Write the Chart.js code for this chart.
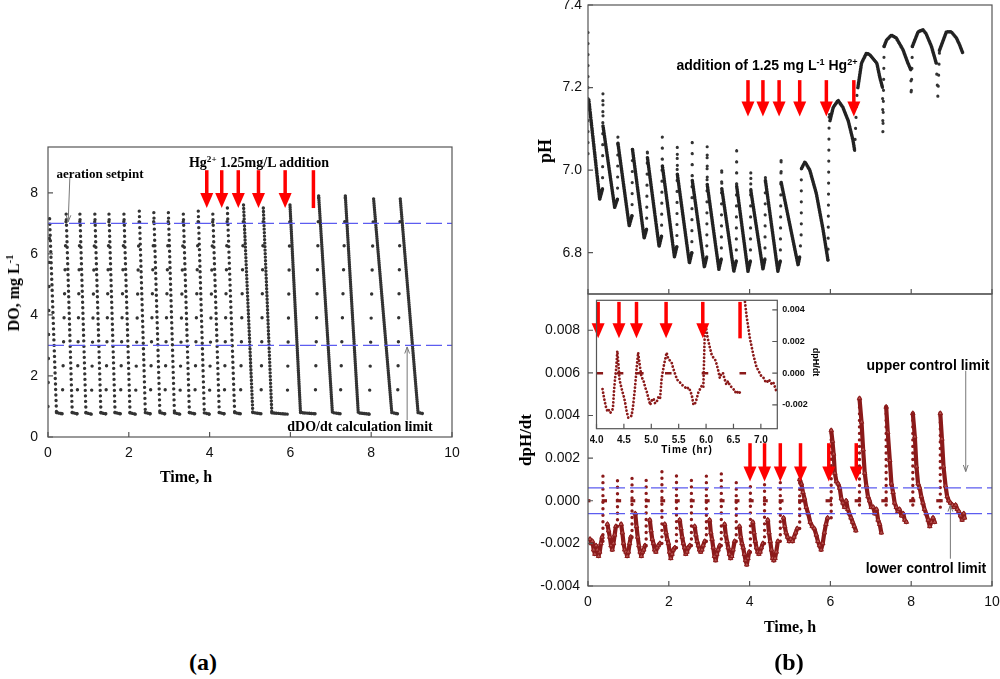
<!DOCTYPE html>
<html>
<head>
<meta charset="utf-8">
<title>DO, pH and dpH/dt during Hg2+ additions</title>
<script src="https://cdn.jsdelivr.net/npm/chart.js@4.4.1/dist/chart.umd.min.js"></script>
<style>
  body { margin: 0; background: #fff; }
  #page { position: relative; width: 1000px; height: 679px; overflow: hidden; background: #fff; }
  #page canvas { position: absolute; }
  .lbl { position: absolute; white-space: nowrap; font-weight: bold; color: #000; line-height: 1; transform: translate(-50%, -50%); }
  .serif { font-family: "Liberation Serif", "DejaVu Serif", serif; }
  .sans { font-family: "Liberation Sans", Arial, sans-serif; }
  .lbl sup { font-size: 65%; vertical-align: 0; position: relative; top: -0.6em; }
  .rot { transform: translate(-50%, -50%) rotate(-90deg); }
  .rot90 { transform: translate(-50%, -50%) rotate(90deg); }
</style>
</head>
<body>
<div id="page">
  <canvas id="chartDO" width="480" height="470" style="left:0;top:0"></canvas>
  <canvas id="chartPH" width="500" height="300" style="left:500px;top:0"></canvas>
  <canvas id="chartDP" width="500" height="340" style="left:500px;top:280px"></canvas>
  <canvas id="chartIn" width="240" height="170" style="left:590px;top:294px"></canvas>

  <div class="lbl serif" style="left:100px;top:173px;font-size:13px">aeration setpint</div>
  <div class="lbl serif" style="left:259px;top:163px;font-size:14px">Hg<sup>2+</sup> 1.25mg/L addition</div>
  <div class="lbl serif" style="left:360px;top:427px;font-size:14px">dDO/dt calculation limit</div>
  <div class="lbl serif rot" style="left:14px;top:293px;font-size:16px">DO, mg L<sup>-1</sup></div>
  <div class="lbl serif" style="left:186px;top:477px;font-size:16px">Time, h</div>
  <div class="lbl serif" style="left:203px;top:662px;font-size:24px">(a)</div>

  <div class="lbl serif rot" style="left:545px;top:151px;font-size:18px">pH</div>
  <div class="lbl sans" style="left:767px;top:65px;font-size:14px">addition of 1.25 mg L<sup>-1</sup> Hg<sup>2+</sup></div>
  <div class="lbl serif rot" style="left:525px;top:440px;font-size:17px">dpH/dt</div>
  <div class="lbl sans" style="left:687px;top:450px;font-size:10px;letter-spacing:1px">Time (hr)</div>
  <div class="lbl sans rot90" style="left:815px;top:362px;font-size:9px">dpH/dt</div>
  <div class="lbl sans" style="left:928px;top:365px;font-size:14px">upper control limit</div>
  <div class="lbl sans" style="left:926px;top:568px;font-size:14px">lower control limit</div>
  <div class="lbl serif" style="left:790px;top:627px;font-size:16px">Time, h</div>
  <div class="lbl serif" style="left:789px;top:662px;font-size:24px">(b)</div>
</div>
<script>
// ---- (a) DO cycles: peak, end of decline, end of low hold ----
const doStart = [0.0, 1.0];
const doPeakT = [0.04, 0.45, 0.79, 1.16, 1.51, 1.88, 2.26, 2.62, 2.98, 3.35, 3.72, 4.08, 4.44, 4.84, 5.33, 5.99, 6.70, 7.36, 8.06, 8.72];
const doPeakV = [7.15, 7.3, 7.3, 7.3, 7.3, 7.3, 7.4, 7.35, 7.35, 7.3, 7.4, 7.3, 7.5, 7.6, 7.5, 7.6, 7.9, 7.9, 7.8, 7.8];
const doLowT  = [0.21, 0.60, 0.94, 1.31, 1.66, 2.03, 2.41, 2.77, 3.13, 3.50, 3.87, 4.24, 4.62, 5.07, 5.54, 6.25, 7.04, 7.68, 8.51, 9.16];
const doLowV  = [0.80, 0.80, 0.79, 0.79, 0.80, 0.79, 0.80, 0.80, 0.79, 0.80, 0.79, 0.80, 0.80, 0.80, 0.79, 0.80, 0.80, 0.79, 0.80, 0.80];
const doEndT  = [0.35, 0.72, 1.07, 1.43, 1.79, 2.16, 2.53, 2.89, 3.26, 3.63, 3.99, 4.36, 4.76, 5.27, 5.92, 6.61, 7.23, 7.95, 8.65, 9.30];
const doEndV  = [0.76, 0.76, 0.75, 0.76, 0.76, 0.75, 0.76, 0.76, 0.75, 0.76, 0.75, 0.76, 0.76, 0.76, 0.75, 0.76, 0.76, 0.75, 0.76, 0.76];
const doLimits = [7.0, 3.0];
const doXTicks = [0, 2, 4, 6, 8, 10];
const doYTicks = [0, 2, 4, 6, 8];
const doArrowT = [3.93, 4.30, 4.71, 5.21, 5.87, 6.57];
const doArrowHead = [true, true, true, true, true, false];

// ---- (b) pH: dense traces and sparse jumps ----
const phDense = [
  [[0.02, 7.17], [0.29, 6.93], [0.36, 6.955]],
  [[0.372, 7.107], [0.66, 6.91], [0.73, 6.93]],
  [[0.742, 7.065], [1.02, 6.865], [1.09, 6.89]],
  [[1.102, 7.05], [1.39, 6.835], [1.45, 6.857]],
  [[1.472, 7.03], [1.76, 6.815], [1.82, 6.84]],
  [[1.842, 7.01], [2.14, 6.79], [2.20, 6.815]],
  [[2.212, 6.99], [2.51, 6.775], [2.57, 6.80]],
  [[2.582, 6.975], [2.88, 6.765], [2.94, 6.79]],
  [[2.952, 6.965], [3.24, 6.76], [3.30, 6.785]],
  [[3.312, 6.955], [3.61, 6.755], [3.67, 6.78]],
  [[3.682, 6.96], [3.96, 6.755], [4.02, 6.78]],
  [[4.032, 6.95], [4.33, 6.76], [4.38, 6.785]],
  [[4.392, 6.975], [4.70, 6.755], [4.76, 6.78]],
  [[4.782, 6.97], [5.20, 6.77], [5.24, 6.79]],
  [[5.29, 7.005], [5.37, 7.02], [5.49, 7.0], [5.65, 6.944], [5.82, 6.855], [5.94, 6.782]],
  [[5.99, 7.12], [6.07, 7.152], [6.19, 7.169], [6.31, 7.152], [6.44, 7.12], [6.56, 7.072], [6.60, 7.048]],
  [[6.68, 7.20], [6.77, 7.259], [6.89, 7.283], [6.97, 7.28], [7.15, 7.259], [7.22, 7.226], [7.29, 7.20]],
  [[7.33, 7.30], [7.39, 7.315], [7.51, 7.327], [7.63, 7.32], [7.80, 7.291], [7.92, 7.259], [7.99, 7.243]],
  [[8.03, 7.30], [8.17, 7.335], [8.29, 7.34], [8.37, 7.33], [8.50, 7.30], [8.62, 7.259]],
  [[8.70, 7.29], [8.87, 7.335], [8.99, 7.335], [9.12, 7.32], [9.20, 7.303], [9.28, 7.283]]
];
const phSparse = [
  [[0.0, 7.04], [0.0, 7.35]],
  [[0.36, 6.955], [0.37, 7.19], [0.372, 7.107]],
  [[0.73, 6.93], [0.74, 7.085], [0.742, 7.065]],
  [[1.09, 6.89], [1.10, 7.06], [1.102, 7.05]],
  [[1.45, 6.857], [1.47, 7.056], [1.472, 7.03]],
  [[1.82, 6.84], [1.84, 7.08], [1.842, 7.01]],
  [[2.20, 6.815], [2.21, 7.06], [2.212, 6.99]],
  [[2.57, 6.80], [2.58, 7.08], [2.582, 6.975]],
  [[2.94, 6.79], [2.95, 7.06], [2.952, 6.965]],
  [[3.30, 6.785], [3.31, 7.01], [3.312, 6.955]],
  [[3.67, 6.78], [3.68, 7.06], [3.682, 6.96]],
  [[4.02, 6.78], [4.03, 7.0], [4.032, 6.95]],
  [[4.38, 6.785], [4.39, 6.99], [4.392, 6.975]],
  [[4.76, 6.78], [4.78, 7.035], [4.782, 6.97]],
  [[5.24, 6.79], [5.28, 6.85], [5.28, 7.017], [5.29, 7.005]],
  [[5.94, 6.782], [5.97, 7.145], [5.99, 7.12]],
  [[6.60, 7.048], [6.66, 7.19], [6.68, 7.20]],
  [[7.29, 7.20], [7.30, 7.09], [7.33, 7.30]],
  [[7.99, 7.243], [8.00, 7.178], [8.03, 7.30]],
  [[8.62, 7.259], [8.66, 7.178], [8.70, 7.29]]
];
const phXTicks = [0, 2, 4, 6, 8, 10];
const phYTicks = [6.8, 7.0, 7.2, 7.4];
const phArrowT = [3.96, 4.33, 4.73, 5.24, 5.90, 6.58];

// ---- (b) dpH/dt ----
const dpSpikeT  = [0.37, 0.73, 1.09, 1.44, 1.83, 2.19, 2.56, 2.93, 3.30, 3.67, 4.02, 4.37, 4.76, 5.24, 6.02, 6.72, 7.38, 8.04, 8.72];
const dpSpikeLo = [-0.0019, -0.0012, -0.0017, -0.0021, -0.0020, -0.0022, -0.0021, -0.0019, -0.0021, -0.0019, -0.0024, -0.0020, -0.0019, -0.0013, -0.0008, -0.0002, -0.0002, -0.0002, -0.0003];
const dpSpikeHi = [0.0013, 0.0012, 0.0013, 0.00125, 0.0014, 0.00125, 0.0012, 0.0014, 0.0013, 0.0011, 0.0009, 0.0008, 0.0009, 0.0010, 0.0033, 0.0048, 0.0044, 0.0041, 0.0041];
const dpZeroT0 = [0.00, 0.34, 0.69, 1.05, 1.41, 1.79, 2.15, 2.52, 2.89, 3.26, 3.63, 3.98, 4.33, 4.72, 5.20, 5.88, 6.60, 7.26, 7.95, 8.62];
const dpZeroT1 = [0.06, 0.47, 0.82, 1.17, 1.53, 1.91, 2.27, 2.64, 3.01, 3.38, 3.75, 4.10, 4.45, 4.84, 5.34, 6.04, 6.76, 7.42, 8.10, 8.78];
const dpDense = [
  [[0.05, -0.0018], [0.08, -0.0020], [0.11, -0.0019], [0.14, -0.0023], [0.17, -0.0025], [0.20, -0.0021], [0.23, -0.0023], [0.26, -0.0026], [0.29, -0.0024], [0.32, -0.0020], [0.35, -0.0017]],
  [[0.48, -0.0011], [0.51, -0.0014], [0.54, -0.0017], [0.57, -0.0021], [0.60, -0.0023], [0.63, -0.0020], [0.66, -0.0016], [0.69, -0.0012]],
  [[0.82, -0.0011], [0.85, -0.0015], [0.88, -0.0020], [0.91, -0.0023], [0.94, -0.0024], [0.97, -0.0026], [1.00, -0.0024], [1.03, -0.0020], [1.06, -0.0017]],
  [[1.17, -0.0006], [1.20, -0.0012], [1.23, -0.0017], [1.26, -0.0021], [1.29, -0.0024], [1.32, -0.0026], [1.35, -0.0024], [1.38, -0.0023], [1.41, -0.0021]],
  [[1.53, -0.0009], [1.56, -0.0014], [1.59, -0.0018], [1.62, -0.0020], [1.65, -0.0023], [1.68, -0.0024], [1.71, -0.0022], [1.74, -0.0021], [1.78, -0.0020]],
  [[1.90, -0.0011], [1.93, -0.0015], [1.96, -0.0018], [1.99, -0.0020], [2.02, -0.0024], [2.05, -0.0027], [2.08, -0.0025], [2.11, -0.0023], [2.15, -0.0022]],
  [[2.27, -0.0009], [2.30, -0.0013], [2.33, -0.0017], [2.36, -0.0020], [2.39, -0.0022], [2.42, -0.0025], [2.45, -0.0024], [2.48, -0.0022], [2.52, -0.0021]],
  [[2.64, -0.0012], [2.67, -0.0016], [2.70, -0.0019], [2.73, -0.0021], [2.76, -0.0023], [2.79, -0.0024], [2.82, -0.0023], [2.85, -0.0021], [2.89, -0.0019]],
  [[3.01, -0.0009], [3.04, -0.0015], [3.07, -0.0018], [3.10, -0.0022], [3.13, -0.0026], [3.16, -0.0028], [3.19, -0.0025], [3.22, -0.0023], [3.26, -0.0021]],
  [[3.38, -0.0011], [3.41, -0.0016], [3.44, -0.0019], [3.47, -0.0022], [3.50, -0.0025], [3.53, -0.0027], [3.56, -0.0026], [3.59, -0.0023], [3.63, -0.0019]],
  [[3.75, -0.0012], [3.78, -0.0017], [3.81, -0.0020], [3.84, -0.0022], [3.87, -0.0025], [3.90, -0.0028], [3.93, -0.0030], [3.96, -0.0027], [3.99, -0.0024]],
  [[4.08, -0.0010], [4.11, -0.0015], [4.14, -0.0019], [4.17, -0.0022], [4.20, -0.0024], [4.23, -0.0025], [4.26, -0.0024], [4.29, -0.0022], [4.33, -0.0020]],
  [[4.45, -0.0009], [4.48, -0.0015], [4.51, -0.0019], [4.54, -0.0023], [4.57, -0.0027], [4.60, -0.0028], [4.63, -0.0027], [4.66, -0.0024], [4.70, -0.0019]],
  [[4.84, -0.0008], [4.87, -0.0012], [4.90, -0.0015], [4.94, -0.0017], [4.98, -0.0019], [5.02, -0.0018], [5.06, -0.0019], [5.10, -0.0017], [5.14, -0.0015], [5.18, -0.0013]],
  [[5.24, 0.0010], [5.28, 0.0008], [5.32, 0.0004], [5.36, 0.0001], [5.40, -0.0003], [5.45, -0.0006], [5.50, -0.0010], [5.55, -0.0012], [5.60, -0.0013], [5.65, -0.0016], [5.69, -0.0019], [5.73, -0.0021], [5.77, -0.0023], [5.81, -0.0020], [5.85, -0.0015], [5.89, -0.0011], [5.93, -0.0008]],
  [[6.02, 0.0033], [6.05, 0.0028], [6.08, 0.0022], [6.11, 0.0013], [6.15, 0.0009], [6.19, 0.0008], [6.23, 0.0006], [6.27, 0.0001], [6.31, -0.0001], [6.35, -0.0003], [6.39, 0.0000], [6.43, -0.0004], [6.47, -0.0006], [6.51, -0.0008], [6.55, -0.0010], [6.59, -0.0012], [6.63, -0.0014]],
  [[6.72, 0.0048], [6.77, 0.0037], [6.81, 0.0024], [6.85, 0.0013], [6.89, 0.0007], [6.93, 0.0002], [6.97, 0.0000], [7.01, -0.0003], [7.06, -0.0003], [7.10, -0.0006], [7.14, -0.0004], [7.18, -0.0009], [7.22, -0.0011], [7.26, -0.0015]],
  [[7.38, 0.0044], [7.42, 0.0032], [7.47, 0.0019], [7.51, 0.0008], [7.55, 0.0004], [7.59, -0.0001], [7.63, -0.0003], [7.67, -0.0005], [7.71, -0.0004], [7.76, -0.0007], [7.80, -0.0006], [7.84, -0.0009], [7.88, -0.0010]],
  [[8.04, 0.0041], [8.09, 0.0030], [8.13, 0.0016], [8.17, 0.0008], [8.21, 0.0006], [8.25, 0.0002], [8.29, -0.0001], [8.33, -0.0004], [8.37, -0.0006], [8.42, -0.0009], [8.46, -0.0012], [8.50, -0.0010], [8.54, -0.0008], [8.58, -0.0010]],
  [[8.72, 0.0041], [8.76, 0.0029], [8.80, 0.0016], [8.85, 0.0007], [8.89, 0.0002], [8.93, 0.0000], [8.97, -0.0001], [9.02, -0.0002], [9.06, -0.0003], [9.10, -0.0002], [9.14, -0.0004], [9.18, -0.0005], [9.22, -0.0007], [9.26, -0.0009], [9.30, -0.0006], [9.32, -0.0008]]
];
const dpLimits = [0.0006, -0.0006];
const dpXTicks = [0, 2, 4, 6, 8, 10];
const dpYTicks = [-0.004, -0.002, 0.000, 0.002, 0.004, 0.006, 0.008];
const dpArrowT = [4.01, 4.37, 4.76, 5.26, 5.96, 6.64];

// ---- inset: dpH/dt between 4.0 and 7.3 h ----
const inDense = [
  [[4.11, -0.0010], [4.14, -0.0016], [4.17, -0.0021], [4.20, -0.0024], [4.22, -0.0023], [4.25, -0.0025], [4.28, -0.0024], [4.30, -0.0022], [4.32, -0.0011], [4.34, -0.0003], [4.36, 0.0003], [4.38, 0.0014], [4.40, 0.0006], [4.42, -0.0004], [4.46, -0.0010], [4.50, -0.0015], [4.52, -0.0018], [4.55, -0.0024], [4.58, -0.0028], [4.61, -0.0027], [4.64, -0.0027], [4.67, -0.0020], [4.70, -0.0010], [4.72, -0.0002], [4.74, 0.0006], [4.76, 0.0013], [4.79, 0.0005], [4.82, -0.0002], [4.86, -0.0005], [4.89, -0.0009], [4.92, -0.0012], [4.95, -0.0016], [4.98, -0.0020], [5.01, -0.0017], [5.04, -0.0016], [5.07, -0.0019], [5.10, -0.0018], [5.13, -0.0015], [5.16, -0.0016], [5.19, -0.0003], [5.23, 0.0005], [5.28, 0.0013], [5.31, 0.0009], [5.34, 0.0008], [5.37, 0.0007], [5.40, 0.0003], [5.43, 0.0000], [5.46, -0.0003], [5.49, -0.0005], [5.53, -0.0006], [5.58, -0.0008], [5.62, -0.0009], [5.65, -0.0010], [5.68, -0.0009], [5.71, -0.0011], [5.74, -0.0014], [5.77, -0.0020], [5.80, -0.0019], [5.83, -0.0016], [5.86, -0.0012], [5.89, -0.0010], [5.92, -0.0008], [5.95, -0.0009], [5.98, 0.0030], [6.00, 0.0029], [6.03, 0.0022], [6.07, 0.0016], [6.10, 0.0012], [6.13, 0.0010], [6.16, 0.0009], [6.19, 0.0006], [6.22, 0.0002], [6.25, -0.0003], [6.28, 0.0000], [6.31, 0.0000], [6.34, -0.0004], [6.37, -0.0007], [6.40, -0.0005], [6.44, -0.0008], [6.47, -0.0009], [6.50, -0.0010], [6.53, -0.0012], [6.56, -0.0011], [6.59, -0.0013], [6.62, -0.0012]],
  [[6.71, 0.0045], [6.74, 0.0036], [6.77, 0.0029], [6.80, 0.0022], [6.83, 0.0017], [6.86, 0.0012], [6.89, 0.0008], [6.92, 0.0004], [6.95, 0.0002], [6.98, 0.0000], [7.01, -0.0002], [7.05, -0.0003], [7.08, -0.0005], [7.11, -0.0006], [7.14, -0.0004], [7.17, -0.0005], [7.20, -0.0007], [7.23, -0.0006], [7.26, -0.0009], [7.29, -0.0012]]
];
const inZeroT0 = [4.00, 4.37, 4.73, 5.25, 5.92, 6.61];
const inZeroT1 = [4.12, 4.49, 4.86, 5.37, 6.04, 6.73];
const inXTicks = [4.0, 4.5, 5.0, 5.5, 6.0, 6.5, 7.0];
const inYTicks = [-0.002, 0.000, 0.002, 0.004];
const inArrowT = [4.03, 4.41, 4.73, 5.27, 5.94, 6.62];
const inArrowHead = [true, true, true, true, true, false];

const DARKRED = '#8b1a1a';
const BLUE = '#5c5cf0';

function line(points, style) {
  return Object.assign({
    data: points.map(p => ({ x: p[0], y: p[1] })),
    showLine: true, pointRadius: 0, borderCapStyle: 'round', borderJoinStyle: 'round'
  }, style);
}
const dotted = (color, width, gap) => ({ borderColor: color, borderWidth: width, borderDash: [0.01, gap] });
const limitLine = v => line([[0, v], [10, v]], { borderColor: BLUE, borderWidth: 1.3, borderDash: [16, 5], borderCapStyle: 'butt' });

// draws frame, inner ticks, red arrows and grey pointers through the scales
const decor = {
  id: 'decor',
  beforeDatasetsDraw(chart, args, o) {
    if (!o.bg) return;
    const a = chart.chartArea, ctx = chart.ctx;
    ctx.save();
    ctx.fillStyle = '#fff';
    ctx.fillRect(a.left, a.top, a.right - a.left, a.bottom - a.top);
    ctx.restore();
  },
  afterDatasetsDraw(chart, args, o) {
    const { ctx, chartArea: a } = chart;
    const x = chart.scales.x, y = chart.scales.y;
    ctx.save();
    (o.arrows || []).forEach(ar => {
      ar.t.forEach((t, i) => {
        const px = x.getPixelForValue(t);
        const y0 = y.getPixelForValue(ar.top), y1 = y.getPixelForValue(ar.tip);
        const head = ar.head ? ar.head[i] : true;
        ctx.strokeStyle = '#ff0000';
        ctx.fillStyle = '#ff0000';
        ctx.lineWidth = 3.5;
        ctx.beginPath();
        ctx.moveTo(px, y0);
        ctx.lineTo(px, head ? y1 - 12 : y1);
        ctx.stroke();
        if (head) {
          ctx.beginPath();
          ctx.moveTo(px - 6.5, y1 - 15);
          ctx.lineTo(px + 6.5, y1 - 15);
          ctx.lineTo(px, y1);
          ctx.closePath();
          ctx.fill();
        }
      });
    });
    (o.pointers || []).forEach(p => {
      const x0 = x.getPixelForValue(p.from[0]), y0 = y.getPixelForValue(p.from[1]);
      const x1 = x.getPixelForValue(p.to[0]), y1 = y.getPixelForValue(p.to[1]);
      const ang = Math.atan2(y1 - y0, x1 - x0);
      ctx.strokeStyle = '#777';
      ctx.lineWidth = 1;
      ctx.beginPath();
      ctx.moveTo(x0, y0);
      ctx.lineTo(x1, y1);
      ctx.moveTo(x1 - 7 * Math.cos(ang - 0.35), y1 - 7 * Math.sin(ang - 0.35));
      ctx.lineTo(x1, y1);
      ctx.lineTo(x1 - 7 * Math.cos(ang + 0.35), y1 - 7 * Math.sin(ang + 0.35));
      ctx.stroke();
    });
    ctx.strokeStyle = '#555';
    ctx.lineWidth = 1.2;
    ctx.strokeRect(a.left, a.top, a.right - a.left, a.bottom - a.top);
    ctx.beginPath();
    (o.xt || []).forEach(v => {
      const px = x.getPixelForValue(v);
      ctx.moveTo(px, a.bottom);
      ctx.lineTo(px, a.bottom - 5);
    });
    (o.yt || []).forEach(v => {
      const py = y.getPixelForValue(v);
      if (o.yRight) { ctx.moveTo(a.right, py); ctx.lineTo(a.right - 5, py); }
      else { ctx.moveTo(a.left, py); ctx.lineTo(a.left + 5, py); }
    });
    ctx.stroke();
    ctx.restore();
  }
};

function noPad(s) { s.paddingTop = 0; s.paddingBottom = 0; s.paddingLeft = 0; s.paddingRight = 0; }

function axis(o) {
  return {
    type: 'linear', min: o.min, max: o.max, position: o.position,
    grid: { display: false, drawTicks: false }, border: { display: false },
    afterBuildTicks: s => { s.ticks = o.ticks.map(v => ({ value: v })); },
    afterFit: s => { if (o.height !== undefined) s.height = o.height; if (o.width !== undefined) s.width = o.width; noPad(s); },
    ticks: {
      display: o.labels !== false, autoSkip: false, maxRotation: 0, padding: o.pad,
      color: '#111', font: { family: 'Liberation Sans', size: o.size || 14, weight: o.bold ? 'bold' : 'normal' },
      callback: o.fmt
    }
  };
}

function makeChart(id, datasets, padding, scales, decorOpts) {
  return new Chart(document.getElementById(id), {
    type: 'scatter',
    data: { datasets: datasets },
    options: {
      responsive: false, animation: false, events: [],
      layout: { padding: padding },
      plugins: { legend: { display: false }, tooltip: { enabled: false }, decor: decorOpts },
      scales: scales
    },
    plugins: [decor]
  });
}

// ---------- chart (a) ----------
const doSets = doLimits.map(limitLine);
doSets.push(line([doStart, [doPeakT[0], doPeakV[0]]], dotted('#333', 3.4, 24)));
doPeakT.forEach((t, i) => {
  doSets.push(line([[t, doPeakV[i]], [doLowT[i], doLowV[i]], [doEndT[i], doEndV[i]]], Object.assign(dotted('#333', 3.4, 5.5), {
    segment: {
      borderDash: c => {
        if (Math.abs(c.p1.parsed.y - c.p0.parsed.y) < 0.3) return [0.01, 2.2];
        const x0 = c.p0.parsed.x;
        return [0.01, x0 < 4.7 ? 5.5 : x0 < 5.9 ? 3.5 : 2.2];
      }
    }
  })));
  if (i + 1 < doPeakT.length) {
    doSets.push(line([[doEndT[i], doEndV[i]], [doPeakT[i + 1], doPeakV[i + 1]]], dotted('#333', 3.4, 24)));
  }
});
makeChart('chartDO', doSets, { left: 0, top: 147, right: 28, bottom: 8 }, {
  x: axis({ min: 0, max: 10, ticks: doXTicks, height: 25, pad: 8, fmt: v => String(v) }),
  y: axis({ min: 0, max: 9.5, ticks: doYTicks, width: 48, pad: 10, fmt: v => String(v) })
}, {
  xt: doXTicks, yt: doYTicks,
  arrows: [{ t: doArrowT, head: doArrowHead, top: 8.74, tip: 7.5 }],
  pointers: [{ from: [0.54, 8.48], to: [0.50, 7.05] }, { from: [8.89, 0.55], to: [8.89, 2.95] }]
});

// ---------- chart (b) top: pH ----------
const phSets = [];
phDense.forEach(p => phSets.push(line(p, dotted('#222', 3.6, 1.6))));
phSparse.forEach(p => phSets.push(line(p, dotted('#333', 3.2, 11))));
makeChart('chartPH', phSets, { left: 0, top: 5, right: 8, bottom: 6 }, {
  x: axis({ min: 0, max: 10, ticks: phXTicks, height: 0, labels: false, fmt: v => String(v) }),
  y: axis({ min: 6.7, max: 7.4, ticks: phYTicks, width: 88, pad: 6, fmt: v => v.toFixed(1) })
}, {
  xt: phXTicks, yt: phYTicks,
  arrows: [{ t: phArrowT, top: 7.218, tip: 7.13 }]
});

// ---------- chart (b) bottom: dpH/dt ----------
const dpSets = dpLimits.map(limitLine);
dpZeroT0.forEach((t, i) => dpSets.push(line([[t, 0], [dpZeroT1[i], 0]], { borderColor: DARKRED, borderWidth: 3.2, borderCapStyle: 'butt' })));
dpSpikeT.forEach((t, i) => dpSets.push(line([[t, dpSpikeLo[i]], [t, dpSpikeHi[i]]], dotted(DARKRED, 3.4, 6.5))));
dpDense.forEach(p => dpSets.push(line(p, {
  borderColor: DARKRED, borderWidth: 4.2,
  pointRadius: 2.6, pointStyle: 'triangle', pointBackgroundColor: '#b5524f', pointBorderColor: DARKRED, pointBorderWidth: 1
})));
makeChart('chartDP', dpSets, { left: 0, top: 14, right: 8, bottom: 9 }, {
  x: axis({ min: 0, max: 10, ticks: dpXTicks, height: 25, pad: 8, fmt: v => String(v) }),
  y: axis({ min: -0.004, max: 0.0097, ticks: dpYTicks, width: 88, pad: 8, fmt: v => v.toFixed(3) })
}, {
  xt: dpXTicks, yt: dpYTicks,
  arrows: [{ t: dpArrowT, top: 0.0027, tip: 0.0009 }],
  pointers: [{ from: [9.35, 0.0061], to: [9.35, 0.00137] }, { from: [8.97, -0.00272], to: [8.97, -0.0002] }]
});

// ---------- inset ----------
const inSets = [];
inZeroT0.forEach((t, i) => inSets.push(line([[t, 0], [inZeroT1[i], 0]], { borderColor: DARKRED, borderWidth: 2.6, borderCapStyle: 'butt' })));
inDense.forEach(p => inSets.push(line(p, dotted(DARKRED, 2.8, 3.6))));
makeChart('chartIn', inSets, { left: 6.5, top: 6.3, right: 7.7, bottom: 15.3 }, {
  x: axis({ min: 4.0, max: 7.3, ticks: inXTicks, height: 20, pad: 6, size: 10, bold: true, fmt: v => v.toFixed(1) }),
  y: axis({ min: -0.0035, max: 0.0046, position: 'right', ticks: inYTicks, width: 45, pad: 5, size: 9, bold: true, fmt: v => v.toFixed(3) })
}, {
  bg: true, yRight: true, xt: inXTicks, yt: inYTicks,
  arrows: [{ t: inArrowT, head: inArrowHead, top: 0.0045, tip: 0.0022 }]
});
</script>
</body>
</html>
